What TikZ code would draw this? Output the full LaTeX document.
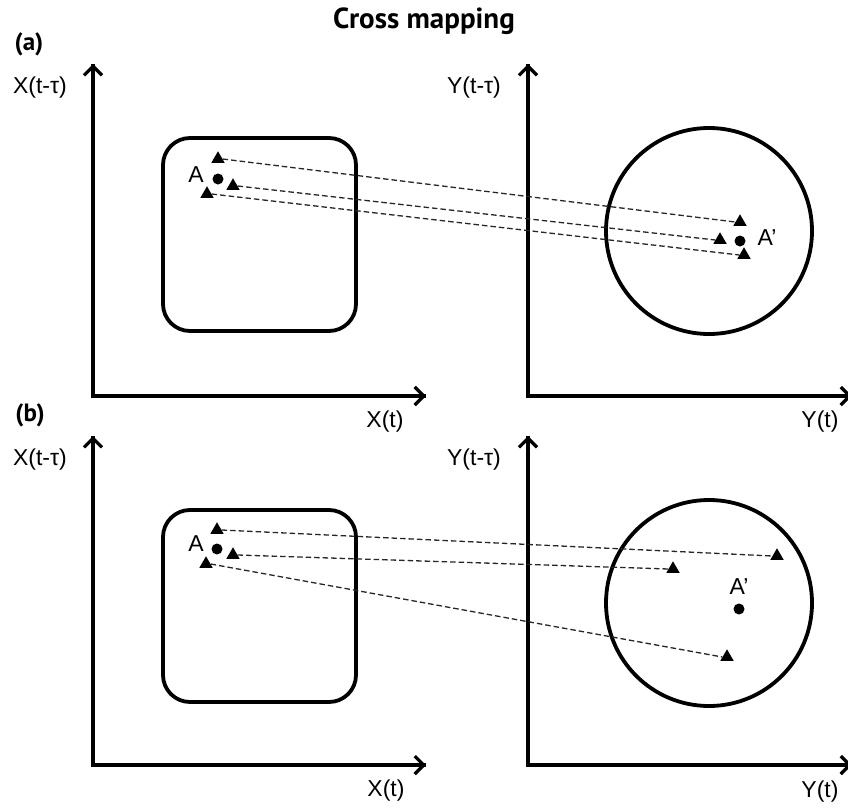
\documentclass[tikz,border=0pt]{standalone}
\usepackage{fontspec}
\setmainfont{Liberation Sans}
\newfontfamily\headfont{PT Sans}
\usetikzlibrary{arrows.meta,shapes.geometric}

\tikzset{
  axisline/.style={line width=3.2pt, line join=miter},
  axistip/.style={-{Straight Barb[length=9pt,width=18pt,line width=3.2pt]}},
  frameline/.style={line width=3.8pt},
  link/.style={line width=1.3pt, dash pattern=on 5.5pt off 3pt, black!85},
  pttri/.style={regular polygon, regular polygon sides=3, fill=black, draw=none,
                inner sep=0pt, minimum size=15.5pt},
  ptdot/.style={circle, fill=black, draw=none, inner sep=0pt, minimum size=11pt},
  lbl/.style={font=\fontsize{23}{27}\selectfont, inner sep=0pt},
  panellbl/.style={font=\headfont\bfseries\fontsize{25}{29}\selectfont, inner sep=0pt},
}

\begin{document}
\begin{tikzpicture}[x=1pt,y=-1pt]
  \useasboundingbox (0,0) rectangle (848,808);

  % title
  \node[font=\headfont\bfseries\fontsize{29}{33}\selectfont, inner sep=0pt, anchor=base]
    (title) at (424,29) {Cross mapping};

  % ---------------- panel (a) ----------------
  \node[panellbl] (alabel) at (29,44) {(a)};

  \coordinate (aLo) at (93,396);
  \coordinate (aLt) at (93,64);
  \coordinate (aLr) at (426,396);
  \coordinate (aRo) at (528,396);
  \coordinate (aRt) at (528,64);
  \coordinate (aRr) at (852,396);
  \draw[axisline] (aLt) -- (aLo) -- (aLr);
  \draw[axisline] (aRt) -- (aRo) -- (aRr);
  \draw[axisline, axistip] (aLo) -- (aLt);
  \draw[axisline, axistip] (aLo) -- (aLr);
  \draw[axisline, axistip] (aRo) -- (aRt);
  \draw[axisline, axistip] (aRo) -- (aRr);

  \node[lbl] (aXlag) at (40,88) {X(t-τ)};
  \node[lbl] (aYlag) at (474,88) {Y(t-τ)};
  \node[lbl] (aXt) at (385,422) {X(t)};
  \node[lbl] (aYt) at (820,422) {Y(t)};

  % attractors
  \draw[frameline, rounded corners=27pt] (163,138) rectangle (356,331);
  \draw[frameline] (709,231) circle[radius=103pt];

  % neighbourhood of A
  \node[pttri] (a1) at (218,159) {};
  \node[ptdot] (aA) at (218,179) {};
  \node[pttri] (a2) at (233,186) {};
  \node[pttri] (a3) at (207,194) {};
  \node[lbl] (aAl) at (196,175) {A};

  % neighbourhood of A'
  \node[pttri] (a1p) at (740,222) {};
  \node[pttri] (a2p) at (720,240) {};
  \node[ptdot] (aAp) at (740,241) {};
  \node[pttri] (a3p) at (744,255) {};
  \node[lbl] (aApl) at (767,238) {A’};

  \draw[link] (a1.east) -- (a1p.west);
  \draw[link] (a2.east) -- (a2p.west);
  \draw[link] (a3.east) -- (a3p.west);

  % ---------------- panel (b) ----------------
  \node[panellbl] (blabel) at (30,415) {(b)};

  \coordinate (bLo) at (93,765);
  \coordinate (bLt) at (93,436);
  \coordinate (bLr) at (426,765);
  \coordinate (bRo) at (528,765);
  \coordinate (bRt) at (528,436);
  \coordinate (bRr) at (852,765);
  \draw[axisline] (bLt) -- (bLo) -- (bLr);
  \draw[axisline] (bRt) -- (bRo) -- (bRr);
  \draw[axisline, axistip] (bLo) -- (bLt);
  \draw[axisline, axistip] (bLo) -- (bLr);
  \draw[axisline, axistip] (bRo) -- (bRt);
  \draw[axisline, axistip] (bRo) -- (bRr);

  \node[lbl] (bXlag) at (40,460) {X(t-τ)};
  \node[lbl] (bYlag) at (474,460) {Y(t-τ)};
  \node[lbl] (bXt) at (386,791) {X(t)};
  \node[lbl] (bYt) at (820,792) {Y(t)};

  \draw[frameline, rounded corners=27pt] (163,510) rectangle (356,702);
  \draw[frameline] (709,603) circle[radius=103pt];

  \node[pttri] (b1) at (217,530) {};
  \node[ptdot] (bA) at (217,549) {};
  \node[pttri] (b2) at (233,555) {};
  \node[pttri] (b3) at (206,564) {};
  \node[lbl] (bAl) at (196,544) {A};

  \node[pttri] (b1p) at (777,556) {};
  \node[pttri] (b2p) at (673,569) {};
  \node[lbl] (bApl) at (739,587) {A’};
  \node[ptdot] (bAp) at (739,609) {};
  \node[pttri] (b3p) at (727,657) {};

  \draw[link] (b1.east) -- (b1p.west);
  \draw[link] (b2.east) -- (b2p.west);
  \draw[link] (b3.east) -- (b3p.west);
\end{tikzpicture}
\end{document}
